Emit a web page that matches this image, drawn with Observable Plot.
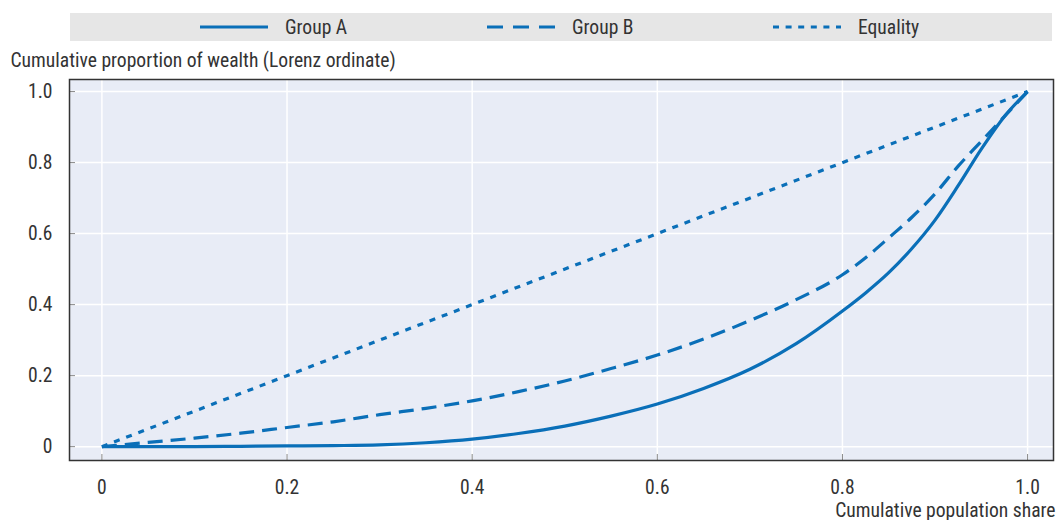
<!DOCTYPE html>
<html>
<head>
<meta charset="utf-8">
<script src="https://cdn.jsdelivr.net/npm/d3@7"></script>
<script src="https://cdn.jsdelivr.net/npm/@observablehq/plot@0.6"></script>
<style>
  body { margin: 0; background: #fff; }
  #wrap { position: relative; width: 1059px; height: 520px; font-family: "Liberation Sans Narrow", "Roboto Condensed", "Liberation Sans", sans-serif; color: #333; }
  #legend { position: absolute; left: 70px; top: 13px; width: 982px; height: 28px; background: #e6e6e6; }
  #legend .item { position: absolute; top: 0; height: 28px; display: flex; align-items: center; font-size: 19.6px; white-space: nowrap; }
  #legend svg { margin-right: 17px; }
  #chart { position: absolute; left: 0; top: 45px; }
</style>
</head>
<body>
<div id="wrap">
  <div id="legend"></div>
  <div id="chart"></div>
</div>
<script>
// Cumulative population share (Lorenz abscissa)
const popShare = [0, 0.05, 0.1, 0.15, 0.2, 0.25, 0.3, 0.35, 0.4, 0.45, 0.5, 0.55, 0.6, 0.65, 0.7, 0.75, 0.8, 0.825, 0.85, 0.875, 0.9, 0.925, 0.95, 0.975, 1.0];
// Cumulative proportion of wealth for each group
const groupA = [0, 0, 0, 0.001, 0.002, 0.003, 0.005, 0.011, 0.021, 0.037, 0.058, 0.086, 0.12, 0.164, 0.218, 0.29, 0.382, 0.433, 0.49, 0.558, 0.638, 0.735, 0.838, 0.93, 1.0];
const groupB = [0, 0.012, 0.024, 0.038, 0.054, 0.07, 0.09, 0.108, 0.129, 0.155, 0.185, 0.22, 0.258, 0.303, 0.355, 0.414, 0.484, 0.532, 0.588, 0.646, 0.712, 0.79, 0.86, 0.93, 1.0];
// Line of perfect equality
const equalityX = [0, 1];
const equalityY = [0, 1];

const seriesNames = ["Group A", "Group B", "Equality"];
const xTicks = [0, 0.2, 0.4, 0.6, 0.8, 1.0];
const yTicks = [0, 0.2, 0.4, 0.6, 0.8, 1.0];
const xTitle = "Cumulative population share";
const yTitle = "Cumulative proportion of wealth (Lorenz ordinate)";

const blue = "#0a6fb8";
const dashes = { "Group A": null, "Group B": "15,8", "Equality": "6,7" };
const legendDashes = { "Group A": null, "Group B": "16,10", "Equality": "6,6.6" };
const legendLeft = [130, 417, 703];

const rows = [];
popShare.forEach((p, i) => {
  rows.push({ series: "Group A", x: p, y: groupA[i] });
  rows.push({ series: "Group B", x: p, y: groupB[i] });
});
equalityX.forEach((p, i) => rows.push({ series: "Equality", x: p, y: equalityY[i] }));

const fmt = d => (d === 0 ? "0" : d.toFixed(1));
const font = '"Liberation Sans Narrow", "Roboto Condensed", "Liberation Sans", sans-serif';

const chart = Plot.plot({
  width: 1059,
  height: 475,
  marginLeft: 69,
  marginRight: 6,
  marginTop: 34,
  marginBottom: 60,
  style: { fontFamily: font, fontSize: "19.6px", color: "#333", background: "transparent", overflow: "visible" },
  x: { domain: [-0.035, 1.028] },
  y: { domain: [-0.039, 1.034] },
  marks: [
    Plot.frame({ fill: "#e8ecf6" }),
    Plot.gridX(xTicks, { stroke: "#fff", strokeOpacity: 1, strokeWidth: 1.5 }),
    Plot.gridY(yTicks, { stroke: "#fff", strokeOpacity: 1, strokeWidth: 1.5 }),
    Plot.axisX(xTicks, { tickSize: -6, tickPadding: 26, tickFormat: fmt, stroke: "#888", fill: "#333", label: null }),
    Plot.axisY(yTicks, { tickSize: -6, tickPadding: 23, tickFormat: fmt, stroke: "#888", fill: "#333", label: null }),
    ...seriesNames.map(name =>
      Plot.line(rows.filter(r => r.series === name), {
        x: "x", y: "y",
        stroke: blue,
        strokeWidth: 3.2,
        strokeDasharray: dashes[name],
        strokeLinecap: "butt",
        curve: "monotone-x"
      })
    ),
    Plot.frame({ stroke: "#333", strokeWidth: 1.5 }),
    Plot.text([yTitle], { text: d => d, frameAnchor: "top-left", textAnchor: "start", lineAnchor: "middle", dx: -59, dy: -19, fill: "#333" }),
    Plot.text([xTitle], { text: d => d, frameAnchor: "bottom-right", textAnchor: "end", lineAnchor: "middle", dx: 2, dy: 50, fill: "#333" })
  ]
});
document.getElementById("chart").appendChild(chart);

// Legend strip above the plot
const legend = document.getElementById("legend");
seriesNames.forEach((name, i) => {
  const item = document.createElement("div");
  item.className = "item";
  item.style.left = legendLeft[i] + "px";
  const dash = legendDashes[name] ? ` stroke-dasharray="${legendDashes[name]}"` : "";
  item.innerHTML = `<svg width="68" height="10"><line x1="0" y1="5" x2="68" y2="5" stroke="${blue}" stroke-width="3.2"${dash}/></svg><span>${name}</span>`;
  legend.appendChild(item);
});
</script>
</body>
</html>
